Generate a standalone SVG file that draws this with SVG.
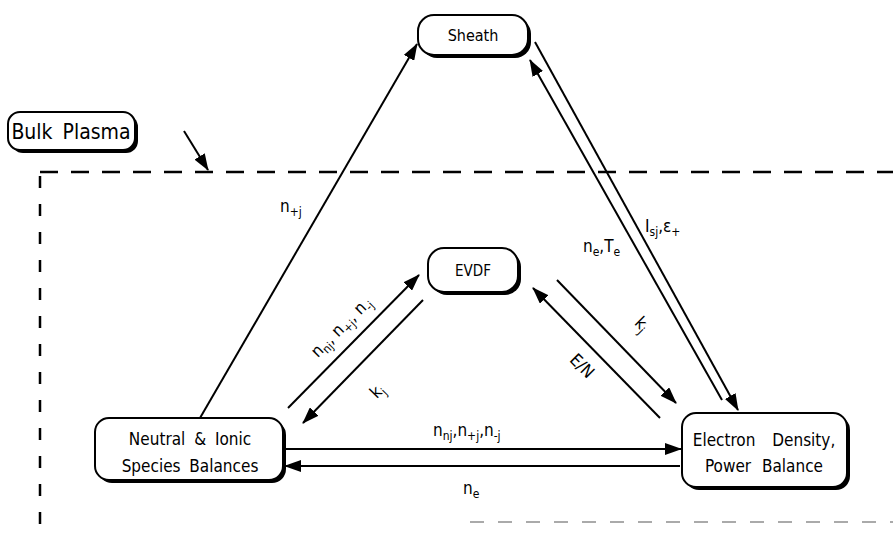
<svg xmlns="http://www.w3.org/2000/svg" width="893" height="546" viewBox="0 0 893 546">
<style>
text{font-family:"DejaVu Sans Condensed","Liberation Sans",sans-serif;fill:#000}
.box{fill:#fff;stroke:#000;stroke-width:2}
.sh{fill:#000}
.lbl{font-size:17px}
.sub{font-size:12px}
.ln{stroke:#000;stroke-width:2;fill:none}
.dash{stroke:#000;stroke-width:2.5;fill:none}
</style>
<defs>
<marker id="ah" markerUnits="userSpaceOnUse" markerWidth="18" markerHeight="12" refX="16" refY="6" orient="auto">
<path d="M0,0 L17,6 L0,12 Z" fill="#000"/>
</marker>
</defs>
<rect width="893" height="546" fill="#fff"/>
<g id="boundary">
<path class="dash" d="M40,172 H893" stroke-dasharray="18,13"/>
<path class="dash" d="M40,176 V540" stroke-dasharray="12,16"/>
<path d="M470,522 H893" stroke="#aaa" stroke-width="2" stroke-dasharray="14,14"/>
</g>
<g id="connectors">
<line class="ln" x1="184" y1="131" x2="208" y2="170" marker-end="url(#ah)"/>
<line class="ln" x1="200" y1="418" x2="417" y2="44" marker-end="url(#ah)"/>
<line class="ln" x1="722" y1="400" x2="530" y2="60" marker-end="url(#ah)"/>
<line class="ln" x1="535" y1="42" x2="738" y2="410" marker-end="url(#ah)"/>
<line class="ln" x1="288" y1="408" x2="419" y2="275" marker-end="url(#ah)"/>
<line class="ln" x1="423" y1="300" x2="303" y2="423" marker-end="url(#ah)"/>
<line class="ln" x1="660" y1="418" x2="533" y2="288" marker-end="url(#ah)"/>
<line class="ln" x1="557" y1="280" x2="676" y2="403" marker-end="url(#ah)"/>
<line class="ln" x1="286" y1="449" x2="681" y2="449" marker-end="url(#ah)"/>
<line class="ln" x1="680" y1="466" x2="285" y2="466" marker-end="url(#ah)"/>
<text class="lbl" x="280" y="212">n<tspan class="sub" dy="4">+j</tspan></text>
<text class="lbl" x="645" y="232">I<tspan class="sub" dy="4">sj</tspan><tspan dy="-4">,ε</tspan><tspan class="sub" dy="4">+</tspan></text>
<text class="lbl" x="583" y="252">n<tspan class="sub" dy="4">e</tspan><tspan dy="-4">,T</tspan><tspan class="sub" dy="4">e</tspan></text>
<text class="lbl" transform="translate(345,331) rotate(-45)" text-anchor="middle">n<tspan class="sub" dy="4">nj</tspan><tspan dy="-4">, n</tspan><tspan class="sub" dy="4">+j</tspan><tspan dy="-4">, n</tspan><tspan class="sub" dy="4">-j</tspan></text>
<text class="lbl" transform="translate(381,395) rotate(-45)" text-anchor="middle">k<tspan class="sub" dy="4">j</tspan></text>
<text class="lbl" transform="translate(578,370) rotate(45)" text-anchor="middle">E/N</text>
<text class="lbl" transform="translate(638,328) rotate(45)" text-anchor="middle">k<tspan class="sub" dy="4">j</tspan></text>
<text class="lbl" x="433" y="436">n<tspan class="sub" dy="4">nj</tspan><tspan dy="-4">,n</tspan><tspan class="sub" dy="4">+j</tspan><tspan dy="-4">,n</tspan><tspan class="sub" dy="4">-j</tspan></text>
<text class="lbl" x="463" y="494">n<tspan class="sub" dy="4">e</tspan></text>
</g>
<g id="bulk">
<rect class="sh" x="11" y="115" width="127" height="38" rx="12"/>
<rect class="box" x="8" y="112" width="127" height="38" rx="12"/>
<text x="71" y="139" font-size="21" text-anchor="middle" word-spacing="4">Bulk Plasma</text>
</g>
<g id="sheath">
<rect class="sh" x="421" y="18" width="110" height="40" rx="16"/>
<rect class="box" x="418" y="15" width="110" height="40" rx="16"/>
<text x="473" y="41" font-size="16" text-anchor="middle">Sheath</text>
</g>
<g id="evdf">
<rect class="sh" x="431" y="251" width="90" height="44" rx="16"/>
<rect class="box" x="428" y="248" width="90" height="44" rx="16"/>
<text x="473" y="276" font-size="15" text-anchor="middle">EVDF</text>
</g>
<g id="neutral">
<rect class="sh" x="98" y="421" width="188" height="62" rx="14"/>
<rect class="box" x="95" y="418" width="188" height="62" rx="14"/>
<text x="190" y="445" font-size="17" text-anchor="middle" word-spacing="4">Neutral &amp; Ionic</text>
<text x="190" y="472" font-size="17" text-anchor="middle" word-spacing="4">Species Balances</text>
</g>
<g id="electron">
<rect class="sh" x="685" y="416" width="165" height="74" rx="14"/>
<rect class="box" x="682" y="413" width="165" height="74" rx="14"/>
<text x="764" y="446" font-size="17" text-anchor="middle" word-spacing="12">Electron Density,</text>
<text x="764" y="472" font-size="17" text-anchor="middle" word-spacing="6">Power Balance</text>
</g>
</svg>
